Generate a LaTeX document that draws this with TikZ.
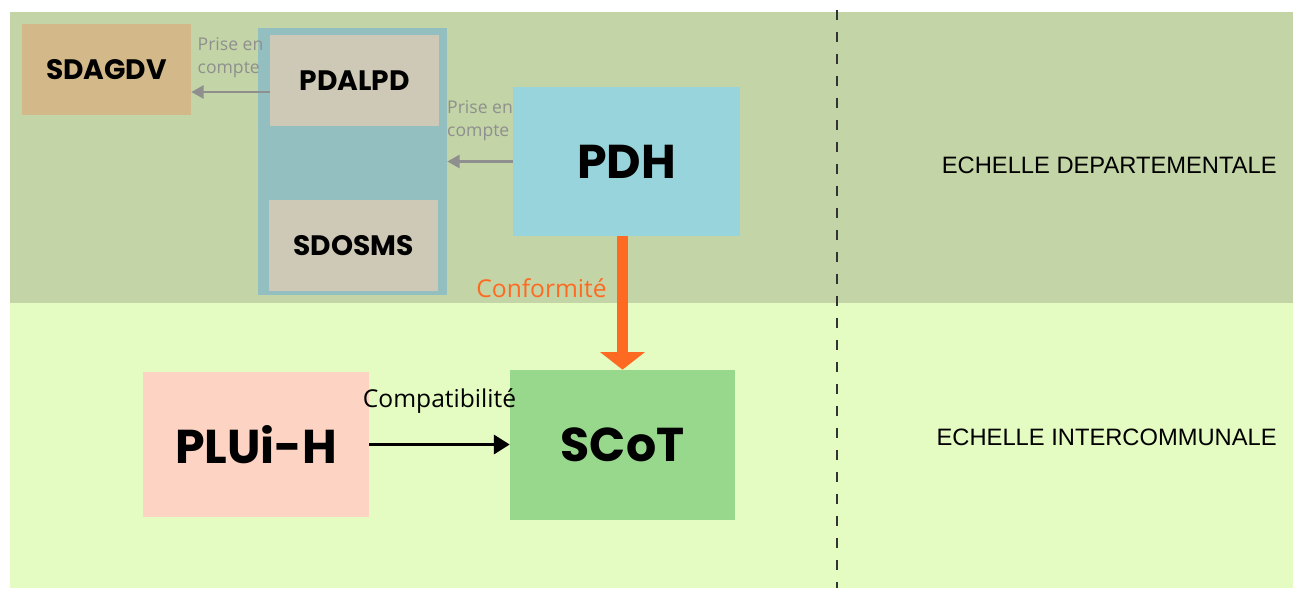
\documentclass[tikz,border=0pt]{standalone}
\usepackage{fontspec}
\setmainfont{Open Sans}
\newfontfamily\boxfont{Poppins}
\newfontfamily\echfont{Liberation Sans}
\usetikzlibrary{arrows.meta}

\definecolor{banddep}{HTML}{C3D5A6}
\definecolor{bandint}{HTML}{E4FBC1}
\definecolor{groupblue}{HTML}{93BFC0}
\definecolor{plangray}{HTML}{CEC9B6}
\definecolor{plantan}{HTML}{D3B98A}
\definecolor{pdhblue}{HTML}{98D4DC}
\definecolor{scotgreen}{HTML}{98D88D}
\definecolor{pluipink}{HTML}{FDD3C3}
\definecolor{conforange}{HTML}{FF6A22}
\definecolor{arrowgray}{HTML}{8F8F8F}

\begin{document}
\begin{tikzpicture}[
    x=0.02cm, y=-0.02cm,
    plan/.style={rectangle, minimum width=3.38cm, minimum height=1.82cm, inner sep=0pt, font=\boxfont\bfseries\fontsize{16pt}{19pt}\selectfont},
    doc/.style={rectangle, minimum width=4.5cm, minimum height=2.95cm, inner sep=0pt, font=\boxfont\bfseries\fontsize{27pt}{32pt}\selectfont},
    take/.style={-{Triangle[width=7.5pt, length=7pt]}, line width=1.2pt, draw=arrowgray},
    note/.style={font=\fontsize{10pt}{13pt}\selectfont, text=arrowgray, align=left, inner sep=1pt},
    level/.style={font=\echfont\fontsize{13.5pt}{15pt}\selectfont, anchor=east, inner sep=0pt}
]
\useasboundingbox (0,0) rectangle (1293,588);

% Bands
\fill[banddep] (10,12) rectangle (1293,303);
\fill[bandint] (10,303) rectangle (1293,588);
\draw[black!80, line width=1.2pt, dash pattern=on 0.2cm off 0.24cm] (837,10) -- (837,588);

% Departmental plans
\node[rectangle, fill=groupblue, minimum width=3.78cm, minimum height=5.34cm] (group) at (352.5,161.5) {};
\node[plan, fill=plantan] (sdagdv) at (106.5,69.5) {SDAGDV};
\node[plan, fill=plangray] (pdalpd) at (354.5,80.5) {PDALPD};
\node[plan, fill=plangray] (sdosms) at (353.5,245.5) {SDOSMS};
\node[doc, fill=pdhblue, minimum width=4.54cm, minimum height=2.98cm] (pdh) at (626.5,161.5) {PDH};

% Intercommunal plans
\node[doc, fill=scotgreen, minimum height=3cm] (scot) at (622.5,445) {SCoT};
\node[doc, fill=pluipink, minimum width=4.52cm, minimum height=2.9cm] (pluih) at (256,444.5) {PLUi-H};

% Links
\draw[take] ([yshift=-0.23cm]pdalpd.west) -- ([yshift=-0.23cm]pdalpd.west -| sdagdv.east)
    node[note, midway, yshift=0.68cm] {Prise en\\compte};
\draw[take] (pdh.west) -- (pdh.west -| group.east)
    node[note, midway, yshift=0.82cm] {Prise en\\compte};
\draw[-{Triangle[width=25pt, length=10pt]}, line width=6.8pt, draw=conforange] (pdh.south -| scot.north) -- (scot.north)
    node[pos=0.39, left, xshift=-0.08cm, text=conforange, font=\fontsize{14pt}{16pt}\selectfont] {Conformité};
\draw[-{Triangle[width=11pt, length=9pt]}, line width=1.3pt] (pluih.east) -- (pluih.east -| scot.west)
    node[midway, yshift=0.86cm, font=\fontsize{14pt}{16pt}\selectfont] {Compatibilité};

% Scales
\node[level] (dep) at (1277,165) {ECHELLE DEPARTEMENTALE};
\node[level] (inter) at (1277,437) {ECHELLE INTERCOMMUNALE};

\end{tikzpicture}
\end{document}
